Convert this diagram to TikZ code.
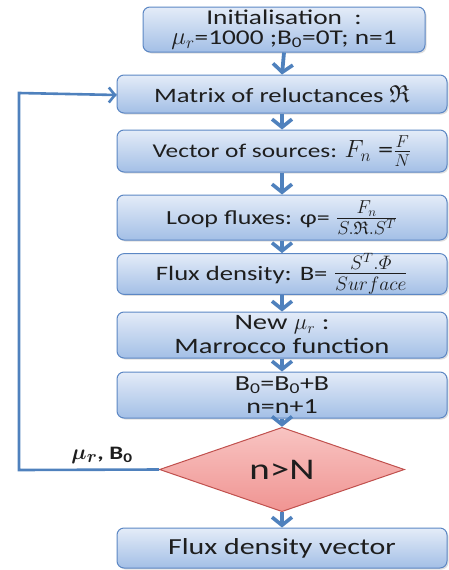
\documentclass[tikz,border=0pt]{standalone}
\usepackage{amsmath,amssymb}
\usepackage{graphicx}
\usepackage{fontspec}
\setmainfont{Carlito}[FakeStretch=1.3]
\usetikzlibrary{arrows.meta,shapes.geometric,shadows}
\definecolor{arrblue}{RGB}{79,129,189}
\definecolor{boxtop}{RGB}{228,236,248}
\definecolor{boxbot}{RGB}{163,191,230}
\definecolor{boxline}{RGB}{92,135,196}
\definecolor{dtop}{RGB}{248,196,194}
\definecolor{dbot}{RGB}{240,148,146}
\definecolor{dline}{RGB}{192,80,77}
\definecolor{txt}{RGB}{30,30,30}
\newcommand{\fs}[1]{\fontsize{#1}{20}\selectfont}
\tikzset{
  stepbox/.style={draw=boxline, line width=1pt, rounded corners=7pt,
    top color=boxtop, bottom color=boxbot, minimum width=330pt,
    align=center, inner sep=0pt, text=txt,
    drop shadow={shadow xshift=1.5pt, shadow yshift=-1.5pt, fill=black!25, opacity=0.5}},
  decision/.style={diamond, draw=dline, line width=1pt, top color=dtop, bottom color=dbot,
    minimum width=245pt, minimum height=55pt, inner sep=0pt},
  flow/.style={draw=arrblue, line width=3.8pt,
    -{Straight Barb[length=8pt, width=20pt, line width=3.6pt]}},
  loopline/.style={draw=arrblue, line width=2.6pt, line join=miter},
}
\begin{document}
\begin{tikzpicture}[x=1pt,y=-1pt]
\useasboundingbox (0,0) rectangle (449,570);
\node[stepbox, minimum width=282pt, minimum height=45pt, font=\fontsize{21}{20.5}\selectfont] (init) at (284,29.5)
  {Initialisation\ \ :\\ \scalebox{1.2}{$\mu_r$}=1000 ;B\textsubscript{0}=0T; n=1};
\node[stepbox, minimum height=38pt, font=\fs{20.5}] (mat) at (282,94) {Matrix of reluctances \scalebox{1.2}{$\mathfrak{R}$}};
\node[stepbox, minimum height=42pt, font=\fs{19.5}] (vec) at (282,151) {Vector of sources: \scalebox{1.2}{$F_n$ =$\frac{F}{N}$}};
\node[stepbox, minimum height=45pt, font=\fs{20}] (loop) at (282,217.5) {Loop fluxes: φ= \scalebox{1.3}{$\frac{F_n}{S.\mathfrak{R}.S^T}$}};
\node[stepbox, minimum height=38pt, font=\fs{20.5}] (flux) at (282,274) {Flux density: B= \scalebox{1.35}{$\frac{S^T.\varPhi}{Surface}$}};
\node[stepbox, minimum height=46pt, font=\fontsize{22}{24}\selectfont] (newmu) at (282,335) {New \scalebox{1.1}{$\mu_r$} :\\ Marrocco function};
\node[stepbox, minimum height=46pt, font=\fontsize{21.5}{22.5}\selectfont] (bzero) at (282,395) {B\textsubscript{0}=B\textsubscript{0}+B\\ n=n+1};
\node[decision] (dec) at (282,469.5) {\color{txt}\fontsize{30}{32}\selectfont n>N};
\node[stepbox, minimum height=40pt, font=\fs{23}] (out) at (282,548) {Flux density vector};

\draw[flow] (init.south) -- (mat.north);
\draw[flow] (mat.south) -- (vec.north);
\draw[flow] (vec.south) -- (loop.north);
\draw[flow] (loop.south) -- (flux.north);
\draw[flow] (flux.south) -- (newmu.north);
\draw[flow] (newmu.south) -- (bzero.north);
\draw[flow] (bzero.south) -- (dec.north);
\draw[flow] (dec.south) -- (out.north);

\coordinate (lb) at (19,470);
\coordinate (lt) at (19,93);
\draw[loopline] (dec.west) -- (lb) -- (lt) -- ([yshift=-1pt]mat.west);
\draw[draw=arrblue, line width=2.6pt, -{Straight Barb[length=6pt, width=15pt, line width=2.6pt]}]
  ([yshift=-1pt,xshift=-20pt]mat.west) -- ([yshift=-1pt]mat.west);
\node[font=\fontsize{19}{20}\selectfont\bfseries, text=txt, anchor=south] (lab) at (102,467)
  {\scalebox{1.25}{$\boldsymbol{\mu_r}$}, B\textsubscript{0}};
\end{tikzpicture}
\end{document}
